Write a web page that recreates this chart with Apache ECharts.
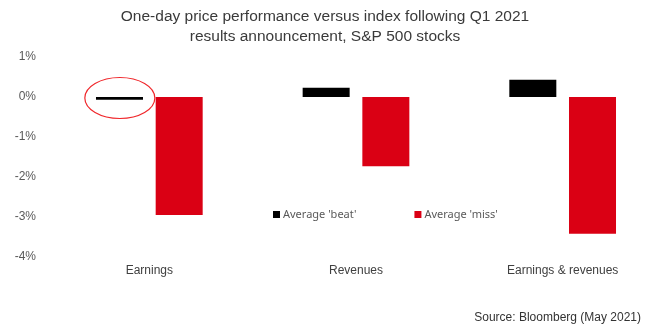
<!DOCTYPE html>
<html>
<head>
<meta charset="utf-8">
<script src="https://cdn.jsdelivr.net/npm/echarts@6/dist/echarts.min.js"></script>
<style>html,body{margin:0;padding:0;background:#fff;overflow:hidden;width:651px;height:335px}#c{width:666px;height:335px}</style>
</head>
<body>
<div id="c"></div>
<script>
const categories = ['Earnings', 'Revenues', 'Earnings & revenues'];
const beatValues = [-0.07, 0.23, 0.43];
const missValues = [-2.95, -1.73, -3.42];
const seriesNames = ["Average 'beat'", "Average 'miss'"];
const yTicks = [-4, -3, -2, -1, 0, 1];
const titleText = 'One-day price performance versus index following Q1 2021\nresults announcement, S&P 500 stocks';
const sourceText = 'Source: Bloomberg (May 2021)';

const chart = echarts.init(document.getElementById('c'), null, {renderer: 'canvas'});
const option = {
  animation: false,
  backgroundColor: '#fff',
  grid: {left: 46, top: 57, right: 0, height: 200, containLabel: false},
  legend: {
    data: seriesNames, left: 268, top: 204, icon: 'rect', itemWidth: 7, itemHeight: 7, itemGap: 58,
    textStyle: {fontFamily: 'Noto Sans', fontSize: 11, color: '#595959', padding: [0, 0, 0, -2]}
  },
  xAxis: {
    type: 'category', data: categories,
    axisLine: {show: false, onZero: false}, axisTick: {show: false},
    axisLabel: {margin: 8, fontFamily: 'Liberation Sans', fontSize: 12, color: '#404040'}
  },
  yAxis: {
    type: 'value', min: yTicks[0], max: yTicks[yTicks.length - 1], interval: 1,
    splitLine: {show: false}, axisLine: {show: false}, axisTick: {show: false},
    axisLabel: {formatter: '{value}%', margin: 10, fontFamily: 'Liberation Sans', fontSize: 12, color: '#595959'}
  },
  series: [
    {name: seriesNames[0], type: 'bar', data: beatValues, itemStyle: {color: '#000'}, barWidth: 47, barGap: '27%'},
    {name: seriesNames[1], type: 'bar', data: missValues, itemStyle: {color: '#da0014'}, barWidth: 47}
  ]
};
chart.setOption(option);

const p0 = chart.convertToPixel({gridIndex: 0}, [categories[0], 0]);
chart.setOption({
  graphic: [
    {type: 'text', x: 325, y: 7,
     style: {text: titleText, align: 'center', verticalAlign: 'top', fontFamily: 'Liberation Sans', fontSize: 15.5, lineHeight: 20, fill: '#3a3a3a'}},
    {type: 'ellipse', shape: {cx: p0[0] - 29.5, cy: p0[1] + 1, rx: 35, ry: 20.5},
     style: {fill: 'none', stroke: '#f0262a', lineWidth: 1.2}},
    {type: 'text', right: 25, top: 312,
     style: {text: sourceText, fontFamily: 'Liberation Sans', fontSize: 12, fill: '#333'}}
  ]
});
</script>
</body>
</html>
